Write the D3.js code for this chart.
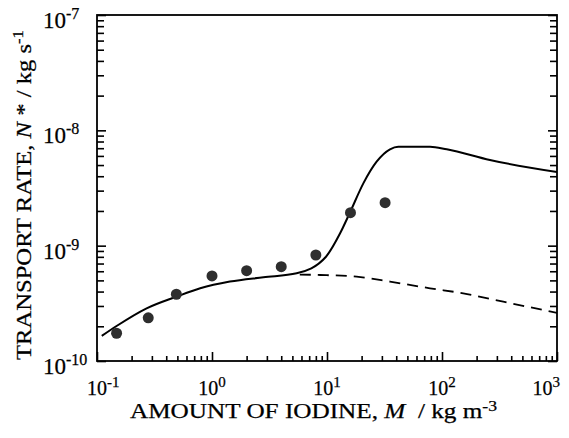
<!DOCTYPE html>
<html><head><meta charset="utf-8">
<script src="https://cdn.jsdelivr.net/npm/d3@7"></script>
<style>
body{margin:0;background:#fff}
svg{display:block}
text{font-family:"Liberation Serif","Times New Roman",serif;fill:#000;stroke:#000;stroke-width:0.25}
</style>
</head><body>
<svg id="c" width="569" height="438"></svg>
<script>
// ---- data ----
const pointX = [0.148, 0.279, 0.49, 1.0, 2.0, 4.0, 8.0, 16, 32];
const pointY = [1.74e-10, 2.37e-10, 3.79e-10, 5.46e-10, 6.07e-10, 6.57e-10, 8.3e-10, 1.93e-9, 2.36e-9];

const solidX = [0.11, 0.148, 0.27, 0.49, 0.79, 1.43, 2.8, 5.45, 9.8, 13.0, 15.8, 20.7, 27.0, 35.3, 41.7, 78.7, 110, 261, 1000];
const solidY = [1.65e-10, 2.01e-10, 2.86e-10, 3.61e-10, 4.27e-10, 4.88e-10, 5.32e-10, 5.76e-10, 8.02e-10, 1.28e-9, 1.93e-9, 3.47e-9, 5.35e-9, 6.85e-9, 7.21e-9, 7.21e-9, 6.85e-9, 5.53e-9, 4.35e-9];

const dashX = [5.8, 8.7, 18.1, 35.3, 78.7, 153, 341, 1000];
const dashY = [5.62e-10, 5.57e-10, 5.38e-10, 4.88e-10, 4.27e-10, 3.86e-10, 3.27e-10, 2.61e-10];

const xTickValues = [0.1, 1, 10, 100, 1000];
const xTickExp = ["-1", "0", "1", "2", "3"];
const yTickValues = [1e-10, 1e-9, 1e-8, 1e-7];
const yTickExp = ["-10", "-9", "-8", "-7"];

const xTitle = ["AMOUNT OF IODINE, ", "M", "  / kg m", "-3"];
const yTitle = ["TRANSPORT RATE, ", "N", " * / kg s", "-1"];

// ---- layout ----
const L = 97, R = 557, T = 15, B = 361;
const svg = d3.select("#c");
const x = d3.scaleLog().domain([0.1, 1000]).range([L, R]);
const y = d3.scaleLog().domain([1e-10, 1e-7]).range([B, T]);

const isMajor = v => Math.abs(Math.log10(v) - Math.round(Math.log10(v))) < 1e-9;
const xMinor = x.ticks().filter(v => !isMajor(v));
const yMinor = y.ticks().filter(v => !isMajor(v));

function styleAxis(g) {
  g.select(".domain").remove();
  g.selectAll(".tick line").attr("stroke", "#000").attr("stroke-width", 1.6);
}
// bottom ticks (inward)
svg.append("g").attr("transform", `translate(0,${B})`)
  .call(d3.axisBottom(x).tickValues(xMinor).tickSize(-5).tickFormat(""))
  .call(styleAxis);
svg.append("g").attr("transform", `translate(0,${B})`)
  .call(d3.axisBottom(x).tickValues(xTickValues).tickSize(-9).tickFormat(""))
  .call(styleAxis);
// left ticks
svg.append("g").attr("transform", `translate(${L},0)`)
  .call(d3.axisLeft(y).tickValues(yMinor).tickSize(-7).tickFormat(""))
  .call(styleAxis);
svg.append("g").attr("transform", `translate(${L},0)`)
  .call(d3.axisLeft(y).tickValues(yTickValues).tickSize(-9).tickFormat(""))
  .call(styleAxis);
// right ticks
svg.append("g").attr("transform", `translate(${R},0)`)
  .call(d3.axisRight(y).tickValues(yMinor).tickSize(-7).tickFormat(""))
  .call(styleAxis);
svg.append("g").attr("transform", `translate(${R},0)`)
  .call(d3.axisRight(y).tickValues(yTickValues).tickSize(-9).tickFormat(""))
  .call(styleAxis);

// frame
svg.append("rect").attr("x", L).attr("y", T).attr("width", R - L).attr("height", B - T)
  .attr("fill", "none").attr("stroke", "#000").attr("stroke-width", 1.8);

// x tick labels
xTickValues.forEach((v, i) => {
  const t = svg.append("text").attr("y", 395).attr("font-size", 20).attr("text-anchor", "middle")
    .attr("x", x(v));
  t.append("tspan").text("10");
  t.append("tspan").attr("font-size", 15).attr("dy", -8).text(xTickExp[i]);
  const bb = t.node().getBBox();
  let shift = 0;
  if (bb.x < 87) shift = 87 - bb.x;
  if (bb.x + bb.width > 560) shift = 560 - (bb.x + bb.width);
  t.attr("x", x(v) + shift);
});

// y tick labels
yTickValues.forEach((v, i) => {
  const t = svg.append("text").attr("x", 43).attr("y", y(v) + 13).attr("font-size", 23);
  t.append("tspan").text("10");
  t.append("tspan").attr("font-size", 16).attr("dy", -9).text(yTickExp[i]);
});

// axis titles
const xt = svg.append("text").attr("x", 313.5).attr("y", 418).attr("font-size", 20)
  .attr("text-anchor", "middle").attr("textLength", 367).attr("lengthAdjust", "spacingAndGlyphs")
  .style("white-space", "pre");
xt.append("tspan").text(xTitle[0]);
xt.append("tspan").attr("font-style", "italic").text(xTitle[1]);
xt.append("tspan").text(xTitle[2]);
xt.append("tspan").attr("font-size", 14).attr("dy", -7).text(xTitle[3]);

const yt = svg.append("text").attr("transform", "translate(31,195) rotate(-90)").attr("font-size", 22)
  .attr("text-anchor", "middle").attr("textLength", 330).attr("lengthAdjust", "spacingAndGlyphs")
  .style("white-space", "pre");
yt.append("tspan").text(yTitle[0]);
yt.append("tspan").attr("font-style", "italic").text(yTitle[1]);
yt.append("tspan").text(yTitle[2]);
yt.append("tspan").attr("font-size", 15).attr("dy", -8).text(yTitle[3]);

// curves
const line = d3.line().x(d => x(d[0])).y(d => y(d[1])).curve(d3.curveMonotoneX);
svg.append("clipPath").attr("id", "clip").append("rect")
  .attr("x", L).attr("y", T).attr("width", R - L).attr("height", B - T);

svg.append("path").datum(dashX.map((v, i) => [v, dashY[i]]))
  .attr("d", line).attr("fill", "none").attr("stroke", "#000").attr("stroke-width", 1.8)
  .attr("stroke-dasharray", "11,7").attr("clip-path", "url(#clip)");
svg.append("path").datum(solidX.map((v, i) => [v, solidY[i]]))
  .attr("d", line).attr("fill", "none").attr("stroke", "#000").attr("stroke-width", 2)
  .attr("clip-path", "url(#clip)");

// points
svg.append("g").selectAll("circle").data(pointX.map((v, i) => [v, pointY[i]])).join("circle")
  .attr("cx", d => x(d[0])).attr("cy", d => y(d[1])).attr("r", 5.5).attr("fill", "#2e2e2e");
</script>
</body></html>
